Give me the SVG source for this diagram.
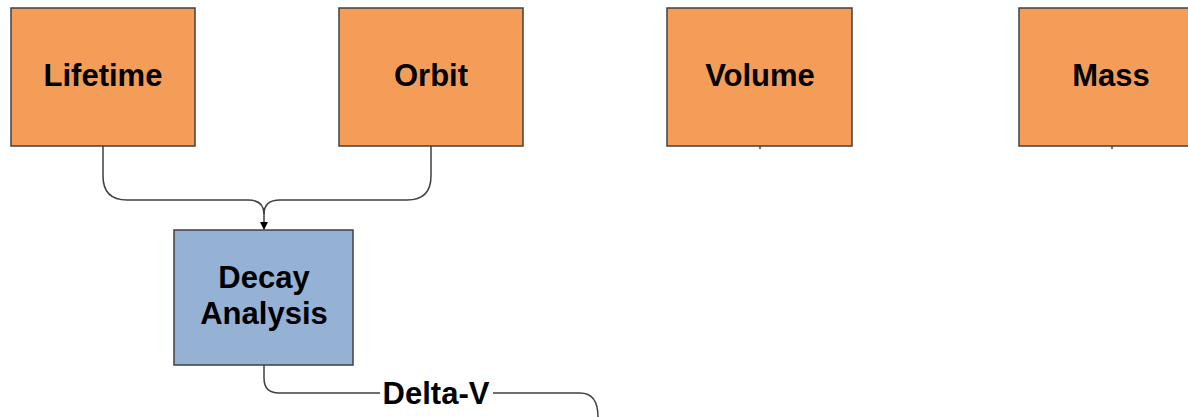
<svg xmlns="http://www.w3.org/2000/svg" width="1188" height="417" viewBox="0 0 1188 417">
<defs>
<style>
.inp{fill:#F49D59;stroke:#404040;stroke-width:1.5}
.proc{fill:#95B1D3;stroke:#404040;stroke-width:1.5}
.lbl{font-family:"Liberation Sans",Arial,sans-serif;font-weight:bold;font-size:31px;fill:#000;text-anchor:middle}
.conn{fill:none;stroke:#404040;stroke-width:1.5}
</style>
<marker id="arr" markerWidth="10" markerHeight="10" refX="7" refY="4" orient="auto" markerUnits="userSpaceOnUse">
<path d="M0,0 L8,4 L0,8 z" fill="#000"/>
</marker>
</defs>
<rect width="1188" height="417" fill="#fff"/>
<g id="connectors">
<path class="conn" d="M103,146 V176 Q103,200 127,200 H248 Q264,200 264,214 V229" marker-end="url(#arr)"/>
<path class="conn" d="M431,146 V176 Q431,200 407,200 H280 Q264,200 264,214"/>
<path class="conn" d="M264,365 V378 Q264,393 279,393 H580 Q598,393 598,417"/>
<path class="conn" d="M760,146 V149"/>
<path class="conn" d="M1112,146 V149"/>
<rect x="380" y="378" width="113" height="30" fill="#fff"/>
<text class="lbl" x="436" y="404">Delta-V</text>
</g>
<g id="lifetime">
<rect class="inp" x="11" y="8" width="184" height="138"/>
<text class="lbl" x="103" y="86">Lifetime</text>
</g>
<g id="orbit">
<rect class="inp" x="339" y="8" width="184" height="138"/>
<text class="lbl" x="431" y="86">Orbit</text>
</g>
<g id="volume">
<rect class="inp" x="667" y="8" width="185" height="138"/>
<text class="lbl" x="760" y="86">Volume</text>
</g>
<g id="mass">
<rect class="inp" x="1019" y="8" width="185" height="138"/>
<text class="lbl" x="1111" y="86">Mass</text>
</g>
<g id="decay">
<rect class="proc" x="174" y="230" width="179" height="135"/>
<text class="lbl" x="264" y="288">Decay</text>
<text class="lbl" x="264" y="324">Analysis</text>
</g>
</svg>
